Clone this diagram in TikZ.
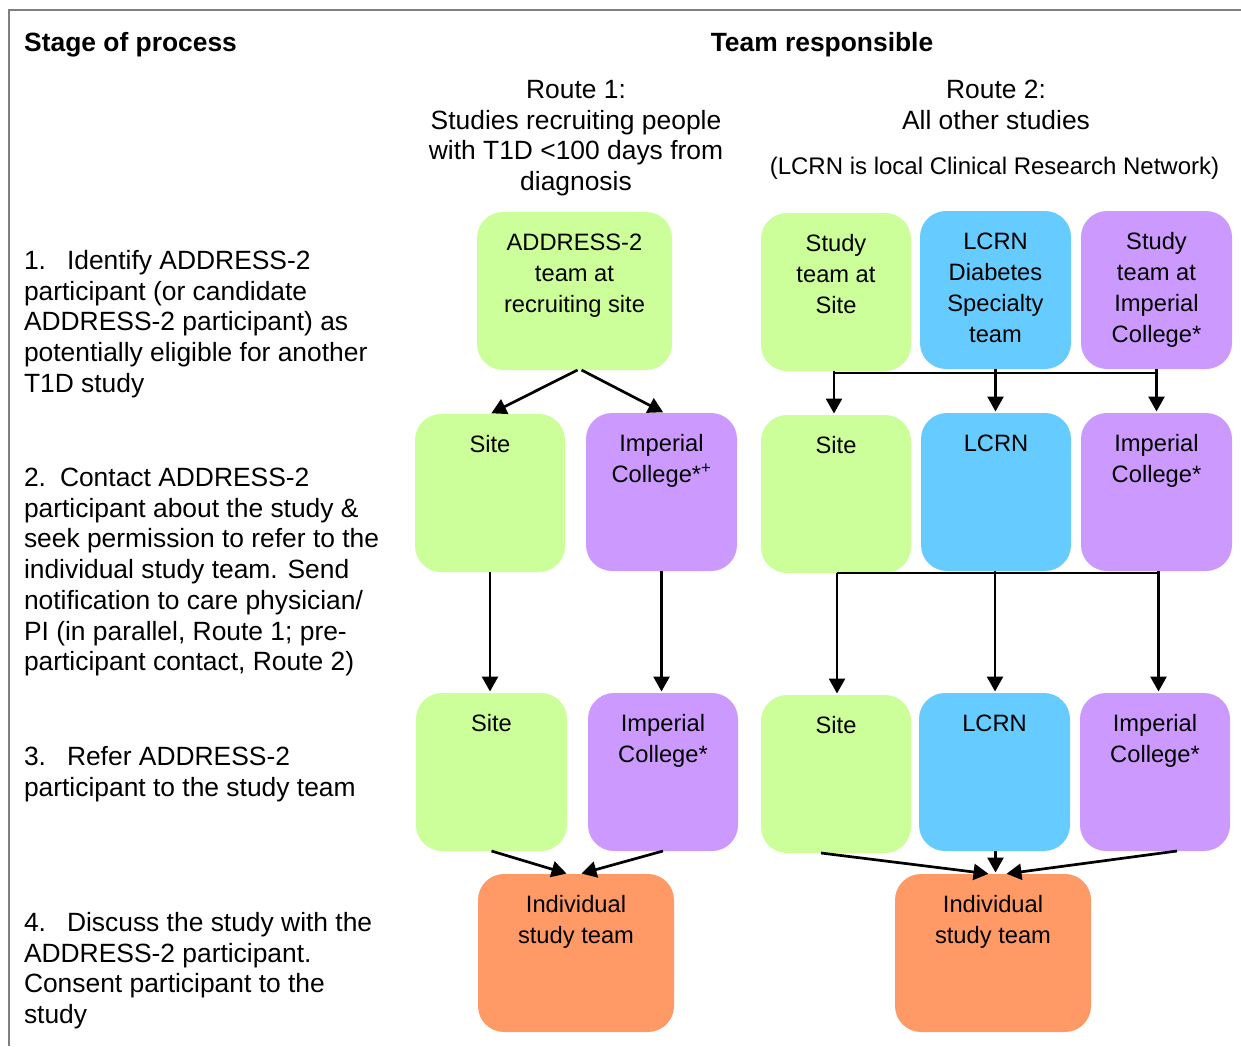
\documentclass[tikz,border=0pt]{standalone}
\usepackage{fontspec}
\setmainfont{Liberation Sans}
\usetikzlibrary{arrows.meta}
\definecolor{cgreen}{HTML}{CCFF99}
\definecolor{cblue}{HTML}{66CCFF}
\definecolor{cpurple}{HTML}{CC99FF}
\definecolor{corange}{HTML}{FF9966}
\definecolor{cframe}{HTML}{7F7F7F}
\newcommand\boxtxt[2]{\parbox[t][158pt][t]{#1}{\centering\rule{0pt}{38.5pt}#2}}
\begin{document}
\begin{tikzpicture}[x=1pt,y=-1pt,
  txt/.style={font=\fontsize{26.4}{30.7}\selectfont, inner sep=0pt, outer sep=0pt},
  hd/.style={font=\fontsize{26.4}{30.7}\selectfont\bfseries, inner sep=0pt},
  small/.style={font=\fontsize{24}{28}\selectfont, inner sep=0pt},
  bx/.style={font=\fontsize{23.7}{31}\selectfont, inner sep=0pt, outer sep=0pt, rounded corners=26pt},
  gbox/.style={bx, fill=cgreen},
  bbox/.style={bx, fill=cblue},
  pbox/.style={bx, fill=cpurple},
  obox/.style={bx, fill=corange},
  arr/.style={line width=2.7pt, -{Triangle[width=16pt,length=15pt]}, shorten >=1.5pt},
  bus/.style={line width=2pt}
]
\useasboundingbox (0,0) rectangle (1241,1046);
\draw[cframe, line width=2pt] (9,1046) -- (9,10) -- (1241,10);

% headers
\node[hd, anchor=base west] (hstage) at (24,51.5) {Stage of process};
\node[hd, anchor=base] (hteam) at (822,51.5) {Team responsible};
\node[txt, align=center, anchor=north] (route1) at (576,68.5) {\rule{0pt}{30pt}Route 1:\\Studies recruiting people\\with T1D <100 days from\\diagnosis};
\node[txt, align=center, anchor=north] (route2) at (996,68.5) {\rule{0pt}{30pt}Route 2:\\All other studies};
\node[small, anchor=base] (lcrnnote) at (994.5,174) {(LCRN is local Clinical Research Network)};

% stage texts
\node[txt, align=left, anchor=north west] (st1) at (24,239.5) {\rule{0pt}{30pt}1.\hspace{21pt}Identify ADDRESS-2\\participant (or candidate\\ADDRESS-2 participant) as\\potentially eligible for another\\T1D study};
\node[txt, align=left, anchor=north west] (st2) at (24,456.5) {\rule{0pt}{30pt}2.\hspace{14pt}Contact ADDRESS-2\\participant about the study \&\\seek permission to refer to the\\individual study team. Send\\notification to care physician/\\PI (in parallel, Route 1; pre-\\participant contact, Route 2)};
\node[txt, align=left, anchor=north west] (st3) at (24,735.5) {\rule{0pt}{30pt}3.\hspace{21pt}Refer ADDRESS-2\\participant to the study team};
\node[txt, align=left, anchor=north west] (st4) at (24,901.5) {\rule{0pt}{30pt}4.\hspace{21pt}Discuss the study with the\\ADDRESS-2 participant.\\Consent participant to the\\study};

% row 1
\node[gbox] (r1a) at (574.5,291) {\boxtxt{195pt}{ADDRESS-2\\team at\\recruiting site}};
\node[gbox] (r2s1) at (836,292) {\boxtxt{150pt}{Study\\team at\\Site}};
\node[bbox] (r2d1) at (995.5,290) {\boxtxt{151pt}{LCRN\\Diabetes\\Specialty\\team}};
\node[pbox] (r2i1) at (1156.5,290) {\boxtxt{151pt}{Study\\team at\\Imperial\\College*}};
% row 2
\node[gbox] (r1s2) at (490,493) {\boxtxt{150pt}{Site}};
\node[pbox] (r1i2) at (661.5,492) {\boxtxt{151pt}{Imperial\\College*\textsuperscript{+}}};
\node[gbox] (r2s2) at (836,494) {\boxtxt{150pt}{Site}};
\node[bbox] (r2l2) at (996,492) {\boxtxt{150pt}{LCRN}};
\node[pbox] (r2i2) at (1156.5,492) {\boxtxt{151pt}{Imperial\\College*}};
% row 3
\node[gbox] (r1s3) at (491.5,772) {\boxtxt{151pt}{Site}};
\node[pbox] (r1i3) at (663,772) {\boxtxt{150pt}{Imperial\\College*}};
\node[gbox] (r2s3) at (836,774) {\boxtxt{150pt}{Site}};
\node[bbox] (r2l3) at (994.5,772) {\boxtxt{151pt}{LCRN}};
\node[pbox] (r2i3) at (1155,772) {\boxtxt{150pt}{Imperial\\College*}};
% row 4
\node[obox] (r1t) at (576,953) {\boxtxt{196pt}{Individual\\study team}};
\node[obox] (r2t) at (993,953) {\boxtxt{196pt}{Individual\\study team}};

% route 1 connectors
\draw[arr] ([xshift=3pt]r1a.south) -- (r1s2.north);
\draw[arr] ([xshift=7pt]r1a.south) -- ([xshift=3pt]r1i2.north);
\draw[arr] (r1s2.south) -- (r1s2.south |- r1s3.north);
\draw[arr] (r1i2.south) -- (r1i2.south |- r1i3.north);
\draw[arr] (r1s3.south) -- ([xshift=-8pt]r1t.north);
\draw[arr] (r1i3.south) -- ([xshift=4pt]r1t.north);

% route 2 connectors
\coordinate (busA) at (0,373);
\coordinate (busB) at (0,573);
\draw[bus] ([xshift=-2pt]r2s1.south |- busA) -- (r2i1.south |- busA);
\draw[arr] ([xshift=-2pt]r2s1.south) -- ([xshift=-2pt]r2s2.north);
\draw[arr] (r2d1.south) -- (r2d1.south |- r2l2.north);
\draw[arr] (r2i1.south) -- (r2i2.north);
\draw[bus] ([xshift=1pt]r2s2.south |- busB) -- ([xshift=2pt]r2i2.south |- busB);
\draw[arr] ([xshift=1pt]r2s2.south) -- ([xshift=1pt]r2s2.south |- r2s3.north);
\draw[arr] ([xshift=-1pt]r2l2.south) -- ([xshift=-1pt]r2l2.south |- r2l3.north);
\draw[arr] ([xshift=2pt]r2i2.south) -- ([xshift=2pt]r2i2.south |- r2i3.north);
\draw[arr] ([xshift=-15pt]r2s3.south) -- ([xshift=-3pt]r2t.north);
\draw[arr] ([xshift=1pt]r2l3.south) -- ([xshift=1pt]r2l3.south |- r2t.north);
\draw[arr] ([xshift=22pt]r2i3.south) -- ([xshift=12pt]r2t.north);
\end{tikzpicture}
\end{document}
